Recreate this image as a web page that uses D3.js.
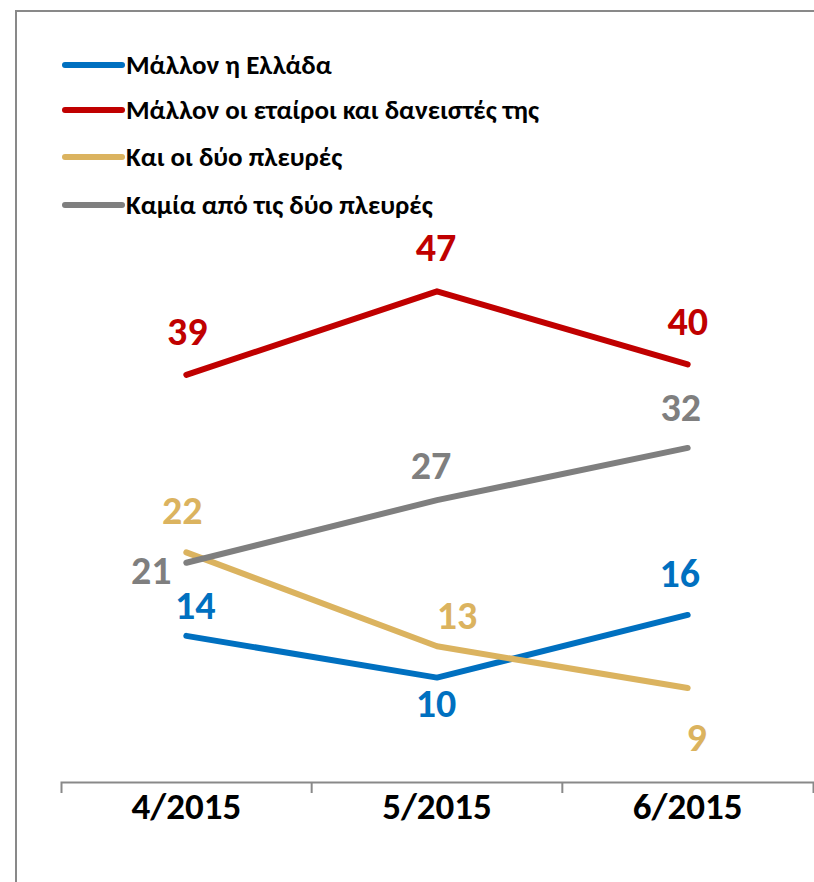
<!DOCTYPE html>
<html>
<head>
<meta charset="utf-8">
<script src="https://cdnjs.cloudflare.com/ajax/libs/d3/7.8.5/d3.min.js"></script>
<style>
  body { margin: 0; background: #fff; }
  svg text { font-family: Carlito, Calibri, "Liberation Sans", sans-serif; font-weight: bold; }
</style>
</head>
<body>
<svg id="chart" width="814" height="882"></svg>
<script>
// data
let months = ['4/2015', '5/2015', '6/2015']
let seriesNames = [
  'Μάλλον η Ελλάδα',
  'Μάλλον οι εταίροι και δανειστές της',
  'Και οι δύο πλευρές',
  'Καμία από τις δύο πλευρές'
]
let greece = [14, 10, 16]
let partners = [39, 47, 40]
let both = [22, 13, 9]
let neither = [21, 27, 32]

let colors = ['#0070C0', '#C00000', '#DBB35F', '#7F7F7F']

let series = [greece, partners, both, neither].map((vals, i) => ({
  name: seriesNames[i],
  color: colors[i],
  values: vals.map((v, j) => ({ month: months[j], value: v }))
}))

// label nudges (dx, dy) per series per month
let labelOffsets = [
  [[9, -30], [-1, 27], [-8, -41]],
  [[1, -43], [-1, -43], [0, -42]],
  [[-4, -41], [20, -30], [9, 50]],
  [[-35, 8], [-6, -34], [-7, -40]]
]

let svg = d3.select('svg#chart')

// outer frame
svg.append('rect')
  .attr('x', 16).attr('y', 11)
  .attr('width', 900).attr('height', 900)
  .attr('fill', 'none')
  .attr('stroke', '#898989')
  .attr('stroke-width', 2)

let xScale = d3.scaleBand()
  .domain(months)
  .range([61, 813])

let yScale = d3.scaleLinear()
  .domain([0, 50])
  .range([782, 260])

// x axis line with outer ticks
let axisG = svg.append('g')
  .attr('transform', 'translate(0, 782)')
axisG.call(d3.axisBottom(xScale).tickSize(0).tickSizeOuter(11).tickPadding(11))
axisG.select('.domain')
  .attr('stroke', '#898989')
  .attr('stroke-width', 2)
axisG.selectAll('.tick text')
  .attr('font-size', 37)
  .attr('fill', '#000')
  .attr('font-family', null)

// inner ticks at category boundaries
axisG.selectAll('.sep')
  .data(months.slice(1))
  .enter()
  .append('line')
  .attr('class', 'sep')
  .attr('x1', d => xScale(d)).attr('x2', d => xScale(d))
  .attr('y1', 0).attr('y2', 11)
  .attr('stroke', '#898989')
  .attr('stroke-width', 2)

let cx = d => xScale(d.month) + xScale.bandwidth() / 2

let line = d3.line()
  .x(cx)
  .y(d => yScale(d.value))

// lines
svg.selectAll('.series')
  .data(series)
  .enter()
  .append('path')
  .attr('class', 'series')
  .attr('d', d => line(d.values))
  .attr('fill', 'none')
  .attr('stroke', d => d.color)
  .attr('stroke-width', 6)
  .attr('stroke-linecap', 'round')
  .attr('stroke-linejoin', 'round')

// value labels
series.forEach((s, i) => {
  svg.selectAll('.lbl' + i)
    .data(s.values)
    .enter()
    .append('text')
    .attr('x', (d, j) => cx(d) + labelOffsets[i][j][0])
    .attr('y', (d, j) => yScale(d.value) + labelOffsets[i][j][1])
    .attr('dy', '0.32em')
    .attr('text-anchor', 'middle')
    .attr('font-size', 40)
    .attr('fill', s.color)
    .text(d => d.value)
})

// legend
let legend = svg.selectAll('.legend')
  .data(series)
  .enter()
  .append('g')
  .attr('class', 'legend')
  .attr('transform', (d, i) => `translate(65, ${[65, 110, 157, 205][i]})`)

legend.append('line')
  .attr('x1', 0).attr('x2', 57)
  .attr('stroke', d => d.color)
  .attr('stroke-width', 6)
  .attr('stroke-linecap', 'round')

legend.append('text')
  .attr('x', 61)
  .attr('dy', '0.32em')
  .attr('font-size', 27)
  .attr('fill', '#000')
  .text(d => d.name)
</script>
</body>
</html>
